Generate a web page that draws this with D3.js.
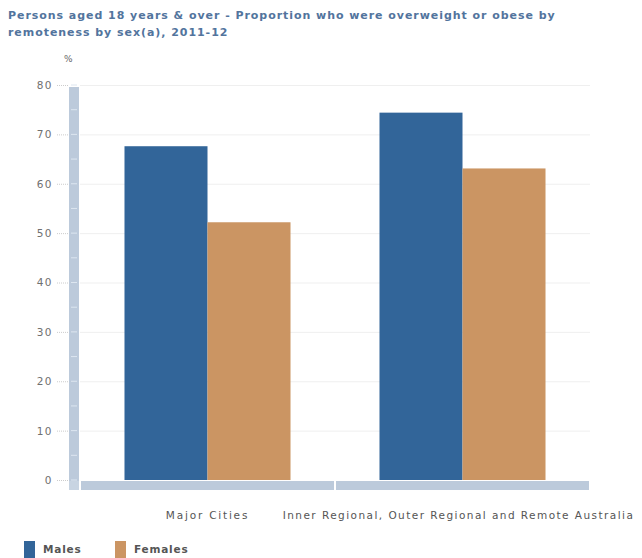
<!DOCTYPE html>
<html><head><meta charset="utf-8">
<script src="https://cdn.jsdelivr.net/npm/d3@7"></script>
<style>body{margin:0;background:#fff;}</style>
</head><body>
<svg id="c" width="642" height="558"></svg>
<script>
const categories = ["Major Cities", "Inner Regional, Outer Regional and Remote Australia"];
const seriesNames = ["Males", "Females"];
const males = [67.6, 74.4];
const females = [52.2, 63.1];
const yTicks = [0, 10, 20, 30, 40, 50, 60, 70, 80];
const titleLines = ["Persons aged 18 years & over - Proportion who were overweight or obese by", "remoteness by sex(a), 2011-12"];
const colors = ["#326599", "#cb9563"];

const svg = d3.select("#c");
const font = "DejaVu Sans, Verdana, sans-serif";
const y = d3.scaleLinear().domain([0, 80]).range([480, 85]);
const x0 = d3.scaleBand().domain(categories).range([80, 590]).paddingInner(0).paddingOuter(0);
const x1 = d3.scaleBand().domain(seriesNames).range([0, x0.bandwidth()]).paddingInner(0).paddingOuter(0.536);

// title
svg.append("g").selectAll("text").data(titleLines).join("text")
  .attr("x", 8).attr("y", (d,i)=>19 + i*17)
  .attr("font-family", font).attr("font-size", 11).attr("font-weight", "bold")
  .attr("letter-spacing", 0.95)
  .attr("fill", "#52749d").text(d=>d);

// unit
svg.append("text").attr("x", 64).attr("y", 62).attr("font-family", font)
  .attr("font-size", 9).attr("fill", "#666").text("%");

// gridlines
svg.append("g").selectAll("line").data(yTicks.filter(d=>d>0)).join("line")
  .attr("x1", 80).attr("x2", 590).attr("y1", d=>y(d)+0.5).attr("y2", d=>y(d)+0.5)
  .attr("stroke", "#efefef").attr("stroke-width", 1);

// y axis
const yAxis = d3.axisLeft(y).tickValues(yTicks).tickSize(12).tickPadding(3);
const ga = svg.append("g").attr("transform", "translate(68,0)").call(yAxis);
ga.select(".domain").remove();
ga.selectAll(".tick line").attr("stroke", "#cccccc").attr("stroke-dasharray", "1,1");
ga.selectAll(".tick text").attr("font-family", font).attr("font-size", 10.5)
  .attr("letter-spacing", 1.5).attr("fill", "#707070");

// y axis bar
svg.append("rect").attr("x", 69).attr("y", 87).attr("width", 10).attr("height", 401).attr("fill", "#bccadb");
svg.append("g").selectAll("line").data(d3.range(0, 81, 5)).join("line")
  .attr("x1", 71).attr("x2", 77).attr("y1", d=>y(d)).attr("y2", d=>y(d))
  .attr("stroke", "#dde6f0").attr("stroke-width", 1);

// bars
const data = categories.map((c,i)=>({cat:c, vals:[males[i], females[i]]}));
const g = svg.append("g");
data.forEach(d=>{
  g.append("g").attr("transform", `translate(${x0(d.cat)},0)`)
   .selectAll("rect").data(seriesNames.map((s,j)=>({s, v:d.vals[j], c:colors[j]}))).join("rect")
   .attr("x", e=>x1(e.s)).attr("width", x1.bandwidth())
   .attr("y", e=>y(e.v)).attr("height", e=>y(0)-y(e.v)).attr("fill", e=>e.c);
});

// bottom axis bar
svg.append("g").selectAll("rect").data(categories).join("rect")
  .attr("x", d=>x0(d)+1).attr("width", x0.bandwidth()-2).attr("y", 481).attr("height", 9)
  .attr("fill", "#bccadb");
svg.append("rect").attr("x", 69).attr("y", 481).attr("width", 10).attr("height", 9).attr("fill", "#c8d4e2");

// category labels
svg.append("g").selectAll("text").data(categories).join("text")
  .attr("x", (d,i)=>x0(d)+x0.bandwidth()/2 - (i===1 ? 4 : 0)).attr("y", 519).attr("text-anchor", "middle")
  .attr("font-family", font).attr("font-size", 10.5).attr("letter-spacing", (d,i)=> i===1 ? 1.45 : 1.8)
  .attr("fill", "#555").text(d=>d);

// legend
const lx = [24, 115];
const lg = svg.append("g").selectAll("g").data(seriesNames).join("g")
  .attr("transform", (d,i)=>`translate(${lx[i]},541)`);
lg.append("rect").attr("width", 11).attr("height", 17).attr("fill", (d,i)=>colors[i]);
lg.append("text").attr("x", 19).attr("y", 12).attr("font-family", font).attr("font-size", 10.5)
  .attr("letter-spacing", 0.8)
  .attr("font-weight", "bold").attr("fill", "#555").text(d=>d);
</script>
</body></html>
